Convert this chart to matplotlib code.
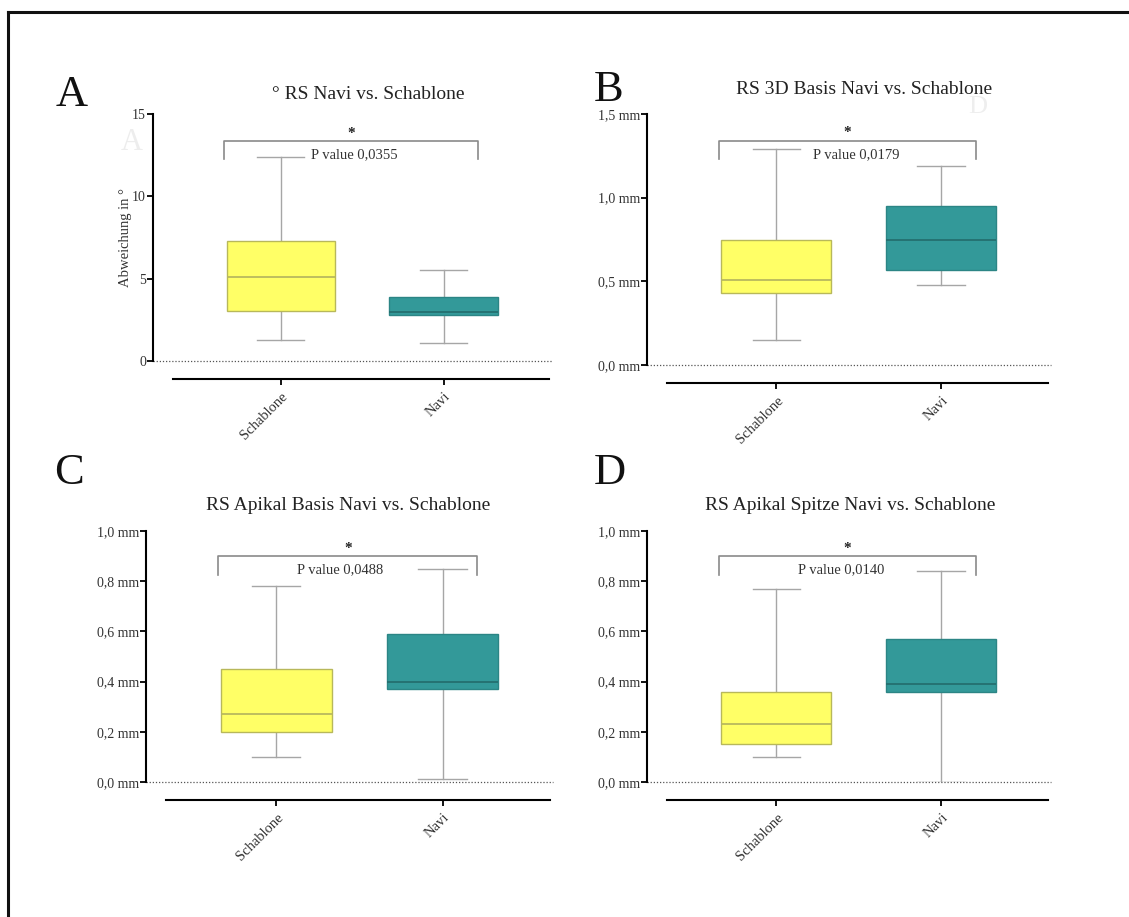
import matplotlib
matplotlib.use("Agg")
import matplotlib.pyplot as plt
from matplotlib.lines import Line2D

plt.rcParams['font.family'] = ['Liberation Serif', 'DejaVu Serif']

# ---- data -------------------------------------------------------------
groups = ["Schablone", "Navi"]

titles = ["° RS Navi vs. Schablone",
          "RS 3D Basis Navi vs. Schablone",
          "RS Apikal Basis Navi vs. Schablone",
          "RS Apikal Spitze Navi vs. Schablone"]
letters = ["A", "B", "C", "D"]

a_whislo = [1.3, 1.07]
a_q1 = [3.04, 2.8]
a_med = [5.1, 3.0]
a_q3 = [7.29, 3.89]
a_whishi = [12.4, 5.5]

b_whislo = [0.15, 0.48]
b_q1 = [0.43, 0.57]
b_med = [0.51, 0.75]
b_q3 = [0.75, 0.95]
b_whishi = [1.29, 1.19]

c_whislo = [0.10, 0.01]
c_q1 = [0.20, 0.37]
c_med = [0.27, 0.40]
c_q3 = [0.45, 0.59]
c_whishi = [0.78, 0.85]

d_whislo = [0.10, 0.0]
d_q1 = [0.15, 0.36]
d_med = [0.23, 0.39]
d_q3 = [0.36, 0.57]
d_whishi = [0.77, 0.84]

p_values = ["0,0355", "0,0179", "0,0488", "0,0140"]

a_ticks = [0, 5, 10, 15]
a_ticklabels = ["0", "5", "10", "15"]
b_ticks = [0.0, 0.5, 1.0, 1.5]
b_ticklabels = ["0,0 mm", "0,5 mm", "1,0 mm", "1,5 mm"]
cd_ticks = [0.0, 0.2, 0.4, 0.6, 0.8, 1.0]
cd_ticklabels = ["0,0 mm", "0,2 mm", "0,4 mm", "0,6 mm", "0,8 mm", "1,0 mm"]

# ---- styling ----------------------------------------------------------
W, H = 1129, 917
YELLOW, YELLOW_EDGE, YELLOW_MED = "#FFFF66", "#B8B85A", "#B9B95E"
TEAL, TEAL_EDGE, TEAL_MED = "#339999", "#2C8585", "#246F6F"
WHISKER = "#A6A6A6"
BRACKET = "#8A8A8A"

fig = plt.figure(figsize=(W / 100, H / 100), dpi=100)


def axes_px(x0, x1, ytop, ybot):
    return fig.add_axes([x0 / W, 1 - ybot / H, (x1 - x0) / W, (ybot - ytop) / H])


def stats(whislo, q1, med, q3, whishi):
    return [dict(whislo=whislo[i], q1=q1[i], med=med[i], q3=q3[i],
                 whishi=whishi[i], fliers=[], label=groups[i])
            for i in range(len(groups))]


def panel(ax, st, ymax, ticks, ticklabels, br_y, br_leg, pval, p_x, ylabel=None):
    bp = ax.bxp(st, positions=[0, 1], widths=0.667, patch_artist=True,
                showfliers=False, capwidths=0.29,
                boxprops=dict(linewidth=1.0),
                whiskerprops=dict(color=WHISKER, linewidth=1.0),
                capprops=dict(color=WHISKER, linewidth=1.0),
                medianprops=dict(linewidth=1.3))
    for box, fc, ec in zip(bp["boxes"], [YELLOW, TEAL], [YELLOW_EDGE, TEAL_EDGE]):
        box.set_facecolor(fc)
        box.set_edgecolor(ec)
        box.set_zorder(3)
    for med, mc in zip(bp["medians"], [YELLOW_MED, TEAL_MED]):
        med.set_color(mc)
        med.set_zorder(4)

    ax.set_xlim(-0.785, 1.665)
    ax.set_ylim(0, ymax)
    ax.axhline(0, color="#555555", linestyle=(0, (1, 1.5)), linewidth=0.9,
               zorder=1, clip_on=False)

    for s in ["top", "right"]:
        ax.spines[s].set_visible(False)
    ax.spines["left"].set_linewidth(1.5)
    ax.spines["bottom"].set_linewidth(1.5)
    ax.spines["bottom"].set_position(("outward", 13))
    ax.spines["bottom"].set_bounds(-0.665, 1.645)

    ax.set_yticks(ticks)
    ax.set_yticklabels(ticklabels, fontsize=10, color="#333333")
    ax.set_xticks([0, 1])
    ax.set_xticklabels(groups, rotation=45, ha="right", rotation_mode="anchor",
                       fontsize=10.5, color="#333333")
    ax.tick_params(axis="y", length=4, width=1.3, pad=1)
    ax.tick_params(axis="x", length=4, width=1.3, pad=4)
    if ylabel:
        ax.set_ylabel(ylabel, fontsize=10.5, color="#333333", labelpad=0)

    # significance bracket
    x0, x1 = -0.35, 1.21
    ax.plot([x0, x0, x1, x1], [br_leg, br_y, br_y, br_leg], color=BRACKET,
            linewidth=1.2, clip_on=False, zorder=5)
    ax.annotate("*", xy=((x0 + x1) / 2, br_y), xytext=(0, 1),
                textcoords="offset points", ha="center", va="bottom",
                fontsize=11, fontweight="bold", color="#222222")
    ax.annotate("P value " + pval, xy=(p_x, br_y), xytext=(0, -5),
                textcoords="offset points", ha="center", va="top",
                fontsize=10.5, color="#333333")


axA = axes_px(153, 552, 114, 361)
panel(axA, stats(a_whislo, a_q1, a_med, a_q3, a_whishi), 15, a_ticks, a_ticklabels,
      13.35, 12.25, p_values[0], 0.45, ylabel="Abweichung in °")

axB = axes_px(647, 1051, 114, 365)
panel(axB, stats(b_whislo, b_q1, b_med, b_q3, b_whishi), 1.5, b_ticks, b_ticklabels,
      1.34, 1.23, p_values[1], 0.485)

axC = axes_px(146, 553, 531, 782)
panel(axC, stats(c_whislo, c_q1, c_med, c_q3, c_whishi), 1.0, cd_ticks, cd_ticklabels,
      0.90, 0.826, p_values[2], 0.386)

axD = axes_px(647, 1051, 531, 782)
panel(axD, stats(d_whislo, d_q1, d_med, d_q3, d_whishi), 1.0, cd_ticks, cd_ticklabels,
      0.90, 0.826, p_values[3], 0.394)

# titles
title_pos = [(368, 99), (864, 94), (348, 510), (850, 510)]
for t, (x, y) in zip(titles, title_pos):
    fig.text(x / W, 1 - y / H, t, ha="center", va="baseline", fontsize=14,
             color="#222222")

# panel letters
letter_pos = [(56, 106), (594, 101), (54, 484), (594, 484)]
for l, (x, y) in zip(letters, letter_pos):
    fig.text(x / W, 1 - y / H, l, ha="left", va="baseline", fontsize=32,
             color="#111111")

# faint leftover letters
fig.text(121 / W, 1 - 150 / H, "A", fontsize=22, color="#EDEDED", va="baseline")
fig.text(968 / W, 1 - 113 / H, "D", fontsize=19, color="#EEEEEE", va="baseline")

# page frame (top and left edges)
fig.add_artist(Line2D([8 / W, 1], [1 - 12 / H, 1 - 12 / H], color="#111111",
                      linewidth=2.2, transform=fig.transFigure))
fig.add_artist(Line2D([8 / W, 8 / W], [0, 1 - 12 / H], color="#111111",
                      linewidth=2.2, transform=fig.transFigure))

fig.savefig("out.png", dpi=100)
